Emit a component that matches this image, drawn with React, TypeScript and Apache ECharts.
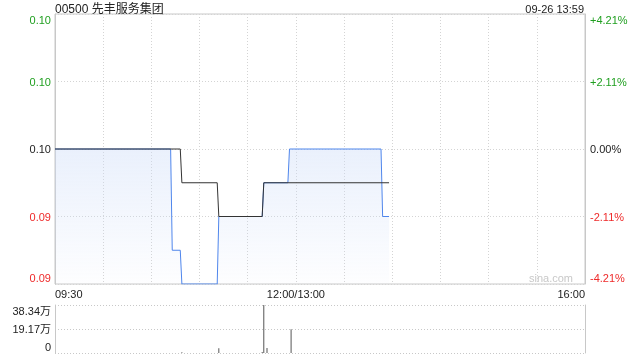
import React, { useEffect, useRef } from 'react';
import * as echarts from 'echarts';

const STOCK_TITLE = '00500 先丰服务集团';
const TIMESTAMP = '09-26 13:59';
const WATERMARK = 'sina.com';
const PREV_CLOSE = 0.095;
const PRICE_STEP = 0.002;
const SESSION_MINUTES = 330;
const TIME_LABELS: Record<number, string> = { 0: '09:30', 150: '12:00/13:00', 330: '16:00' };

// minute index (0 = 09:30, 150 = 12:00/13:00, 330 = 16:00)
const priceMinutes = [0, 72, 73, 78, 79, 101, 102, 129, 130, 145, 146, 203, 204, 208];
const priceValues = [0.095, 0.095, 0.092, 0.092, 0.091, 0.091, 0.093, 0.093, 0.094, 0.094, 0.095, 0.095, 0.093, 0.093];
const avgMinutes = [0, 78, 79, 101, 102, 129, 130, 208];
const avgValues = [0.095, 0.095, 0.094, 0.094, 0.093, 0.093, 0.094, 0.094];
const volumeMinutes = [79, 102, 129, 130, 132, 147];
const volumeValues = [6000, 38000, 7000, 383400, 40000, 190000];
const VOLUME_MAX = 383400;

const FONT = '"Liberation Sans", Arial, "Noto Sans CJK SC", sans-serif';
const GREEN = '#1f9f1f';
const RED = '#ee2a2a';
const BLACK = '#222';

export default function App() {
  const ref = useRef<HTMLDivElement>(null);
  useEffect(() => {
    if (!ref.current) return;
    const chart = echarts.init(ref.current, null, { renderer: 'svg' });
    const stepPct = (PRICE_STEP / PREV_CLOSE) * 100;
    const yMax = 2 * stepPct;
    const yMin = -2 * stepPct;
    const toPct = (p: number) => (p / PREV_CLOSE - 1) * 100;
    const priceData = priceMinutes.map((m, i) => [m, toPct(priceValues[i])]);
    const avgData = avgMinutes.map((m, i) => [m, toPct(avgValues[i])]);
    const volData = volumeMinutes.map((m, i) => [m, volumeValues[i]]);

    const colorKey = (v: number) => {
      const r = Math.round(v * 1000);
      return r > 0 ? 'G' : r < 0 ? 'R' : 'K';
    };
    const posKey = (v: number) =>
      Math.abs(v - yMax) < 1e-6 ? 'top' : Math.abs(v - yMin) < 1e-6 ? 'bot' : 'mid';
    const mkRich = () => {
      const rich: any = {};
      const cols: any = { G: GREEN, R: RED, K: BLACK };
      const pads: any = { top: [12, 0, 0, 0], bot: [0, 0, 12, 0], mid: [0, 0, 0, 0] };
      for (const p of ['top', 'mid', 'bot'])
        for (const c of ['G', 'R', 'K'])
          rich[p + c] = { color: cols[c], padding: pads[p], fontSize: 11, fontFamily: FONT };
      return rich;
    };
    const rich = mkRich();

    const volPos = (v: number) =>
      Math.abs(v - VOLUME_MAX) < 1 ? 'top' : v === 0 ? 'bot' : 'mid';

    chart.setOption({
      animation: false,
      textStyle: { fontFamily: FONT },
      title: [
        {
          text: STOCK_TITLE, left: 55, top: 3, padding: 0,
          textStyle: { fontSize: 12, fontWeight: 'normal', color: BLACK, fontFamily: FONT },
        },
        {
          text: TIMESTAMP, right: 56, top: 3, padding: 0,
          textStyle: { fontSize: 11, fontWeight: 'normal', color: BLACK, fontFamily: FONT },
        },
      ],
      graphic: [
        {
          type: 'text', right: 67, top: 272,
          style: { text: WATERMARK, fill: '#c8c8c8', fontSize: 11, fontFamily: FONT },
        },
      ],
      grid: [
        { left: 55, right: 55, top: 14, height: 270, show: true, borderColor: '#c8c8c8', borderWidth: 1 },
        { left: 55, right: 55, top: 305, height: 48 },
      ],
      xAxis: [
        {
          type: 'value', gridIndex: 0, min: 0, max: SESSION_MINUTES, interval: 30,
          axisLine: { show: false }, axisTick: { show: false },
          splitLine: { show: true, lineStyle: { color: '#d4d4d4', type: [1, 2] } },
          axisLabel: {
            show: true, margin: 4, fontSize: 11, color: BLACK, fontFamily: FONT,
            alignMinLabel: 'left', alignMaxLabel: 'right',
            formatter: (v: number) => TIME_LABELS[Math.round(v)] ?? '',
          },
        },
        {
          type: 'value', gridIndex: 1, min: 0, max: SESSION_MINUTES, interval: 30,
          axisLine: { show: false }, axisTick: { show: false },
          splitLine: { show: false }, axisLabel: { show: false },
        },
      ],
      yAxis: [
        {
          type: 'value', gridIndex: 0, min: yMin, max: yMax, interval: stepPct, position: 'left',
          axisLine: { show: true, lineStyle: { color: '#c8c8c8' } }, axisTick: { show: false },
          splitLine: { show: true, lineStyle: { color: '#d4d4d4', type: [1, 2] } },
          axisLabel: {
            margin: 4, rich,
            formatter: (v: number) => {
              const price = PREV_CLOSE * (1 + v / 100);
              return `{${posKey(v)}${colorKey(v)}|${price.toFixed(2)}}`;
            },
          },
        },
        {
          type: 'value', gridIndex: 0, min: yMin, max: yMax, interval: stepPct, position: 'right',
          axisLine: { show: true, lineStyle: { color: '#c8c8c8' } }, axisTick: { show: false },
          splitLine: { show: false },
          axisLabel: {
            margin: 5, rich,
            formatter: (v: number) => {
              const ck = colorKey(v);
              const s = (ck === 'G' ? '+' : ck === 'R' ? '-' : '') + Math.abs(v).toFixed(2) + '%';
              return `{${posKey(v)}${ck}|${s}}`;
            },
          },
        },
        {
          type: 'value', gridIndex: 1, min: 0, max: VOLUME_MAX, interval: VOLUME_MAX / 2, position: 'left',
          axisLine: { show: true, lineStyle: { color: '#c8c8c8' } }, axisTick: { show: false },
          splitLine: { show: true, lineStyle: { color: '#c8c8c8', type: [1, 2] } },
          axisLabel: {
            margin: 4, rich,
            formatter: (v: number) => {
              const s = v === 0 ? '0' : (v / 10000).toFixed(2) + '万';
              return `{${volPos(v)}K|${s}}`;
            },
          },
        },
        {
          type: 'value', gridIndex: 1, min: 0, max: VOLUME_MAX, interval: VOLUME_MAX / 2, position: 'right',
          axisLine: { show: true, lineStyle: { color: '#c8c8c8' } }, axisTick: { show: false },
          splitLine: { show: false }, axisLabel: { show: false },
        },
      ],
      series: [
        {
          type: 'line', xAxisIndex: 0, yAxisIndex: 0, data: priceData, symbol: 'none',
          lineStyle: { color: '#4f86ec', width: 1 },
          areaStyle: {
            origin: 'start',
            color: new echarts.graphic.LinearGradient(0, 0, 0, 1, [
              { offset: 0, color: 'rgba(205,220,248,0.6)' },
              { offset: 1, color: 'rgba(205,220,248,0.05)' },
            ]),
          },
          z: 3,
        },
        {
          type: 'line', xAxisIndex: 0, yAxisIndex: 0, data: avgData, symbol: 'none',
          lineStyle: { color: '#333', width: 1 }, z: 4,
        },
        {
          type: 'bar', xAxisIndex: 1, yAxisIndex: 2, data: volData, barWidth: 1,
          itemStyle: { color: '#555' },
        },
      ],
    });
    return () => chart.dispose();
  }, []);
  return <div ref={ref} style={{ position: 'fixed', left: 0, top: 0, width: 640, height: 360 }} />;
}
